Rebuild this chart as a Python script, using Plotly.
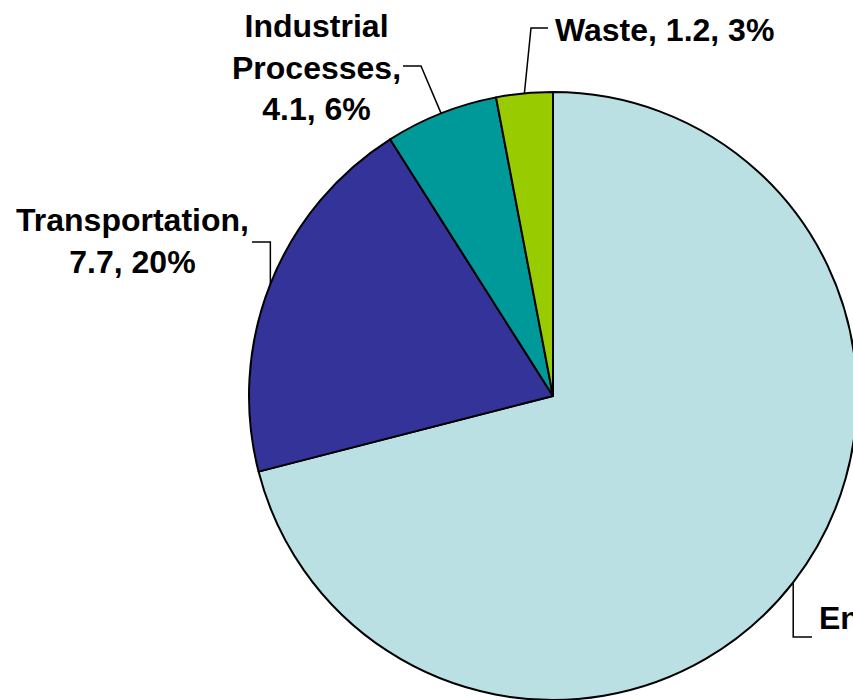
import math
import plotly.graph_objects as go

# Emissions by sector (slices drawn from their shares)
sectors = ["Energy", "Transportation", "Industrial Processes", "Waste"]
amounts = ["27.3", "7.7", "4.1", "1.2"]
shares = [71, 20, 6, 3]
label_text = [
    "Energy, 27.3, 71%",
    "Transportation,<br>7.7, 20%",
    "Industrial<br>Processes,<br>4.1, 6%",
    "Waste, 1.2, 3%",
]
colors = ["#BBE0E3", "#333399", "#009999", "#99CC00"]

W, H = 880, 700
dom_x = [249 / W, 857 / W]
dom_y = [0, 608 / H]

fig = go.Figure(
    go.Pie(
        labels=sectors,
        values=shares,
        sort=False,
        direction="clockwise",
        rotation=0,
        textinfo="none",
        hoverinfo="label+value",
        marker=dict(colors=colors, line=dict(color="black", width=2)),
        domain=dict(x=dom_x, y=dom_y),
        showlegend=False,
    )
)

# pie geometry in pixels
cx = (dom_x[0] + dom_x[1]) / 2 * W
cy = H - (dom_y[0] + dom_y[1]) / 2 * H
r = min((dom_x[1] - dom_x[0]) * W, (dom_y[1] - dom_y[0]) * H) / 2


def px(x):
    return x / W


def py(y):
    return 1 - y / H


total = sum(shares)
cum = 0.0
mids = []
for v in shares:
    frac = (cum + v / 2) / total
    th = 2 * math.pi * frac
    mids.append((cx + r * math.sin(th), cy - r * math.cos(th)))
    cum += v

# leader layout: elbow y, end x, text x, text y, anchor
layout_spec = [
    dict(ey=637, ex=812, tx=817, ty=618, anchor="left"),
    dict(ey=242, ex=252, tx=251, ty=241, anchor="right"),
    dict(ey=66, ex=403, tx=403, ty=67, anchor="right"),
    dict(ey=28, ex=548, tx=553, ty=30, anchor="left"),
]
elbow_x = [None, None, 421, 531]

font = dict(family="Liberation Sans, Arial, sans-serif", size=32, color="black", weight="bold")

for (mx, my), spec, bx, txt in zip(mids, layout_spec, elbow_x, label_text):
    ex_ = mx if bx is None else bx
    path = "M {} {} L {} {} L {} {}".format(
        px(mx), py(my), px(ex_), py(spec["ey"]), px(spec["ex"]), py(spec["ey"])
    )
    fig.add_shape(type="path", path=path, xref="paper", yref="paper",
                  line=dict(color="black", width=1.5))
    fig.add_annotation(
        text=txt, x=px(spec["tx"]), y=py(spec["ty"]), xref="paper", yref="paper",
        xanchor=spec["anchor"], yanchor="middle", align="center",
        showarrow=False, font=font,
    )

fig.update_layout(
    width=W,
    height=H,
    margin=dict(l=0, r=0, t=0, b=0),
    paper_bgcolor="white",
    plot_bgcolor="white",
)

fig.write_html(
    "out.html",
    post_script="document.documentElement.style.overflow='hidden';document.body.style.overflow='hidden';",
)
